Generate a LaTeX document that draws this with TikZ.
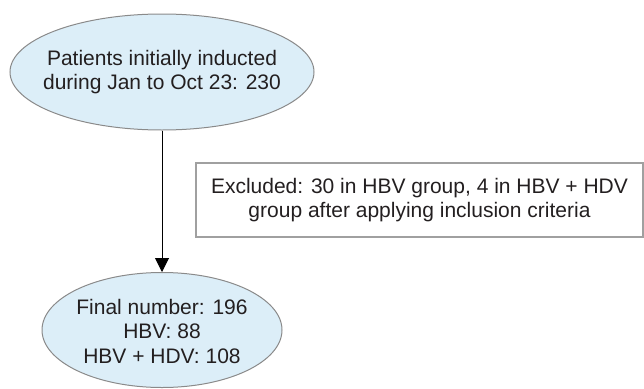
\documentclass[tikz,border=0pt]{standalone}
\usepackage{fontspec}
\setmainfont{Liberation Sans}
\usetikzlibrary{shapes.geometric,arrows.meta}
\definecolor{ellfill}{HTML}{DCEEF8}
\definecolor{ellline}{HTML}{8A8A8A}
\definecolor{boxline}{HTML}{A0A0A0}
\definecolor{txt}{HTML}{231F20}
\begin{document}
\begin{tikzpicture}[x=1pt,y=-1pt,
  ell/.style={ellipse, draw=ellline, line width=1pt, fill=ellfill, inner sep=0pt},
  lbl/.style={font=\fontsize{21}{24.5}\selectfont, text=txt, align=center, inner sep=0pt},
  exbox/.style={draw=boxline, line width=1.2pt, inner sep=0pt,
    font=\fontsize{21}{24.5}\selectfont, text=txt, align=center},
  conn/.style={-{Triangle[length=14pt,width=14pt]}, line width=1pt, black}]
\useasboundingbox (0,0) rectangle (644,388);
\node[ell, minimum width=304pt, minimum height=116pt] (top) at (162,72) {};
\node[lbl] (toplbl) at (162,72) {Patients initially inducted\\during Jan to Oct 23: 230};
\node[ell, minimum width=240pt, minimum height=115pt] (bot) at (162,330) {};
\node[lbl] (botlbl) at (162,331) {Final number: 196\\HBV: 88\\HBV + HDV: 108};
\node[exbox, minimum width=447pt, minimum height=74pt] (ex) at (419.5,200)
  {Excluded: 30 in HBV group, 4 in HBV + HDV\\group after applying inclusion criteria};
\draw[conn] (top.south) -- (bot.north);
\end{tikzpicture}
\end{document}
